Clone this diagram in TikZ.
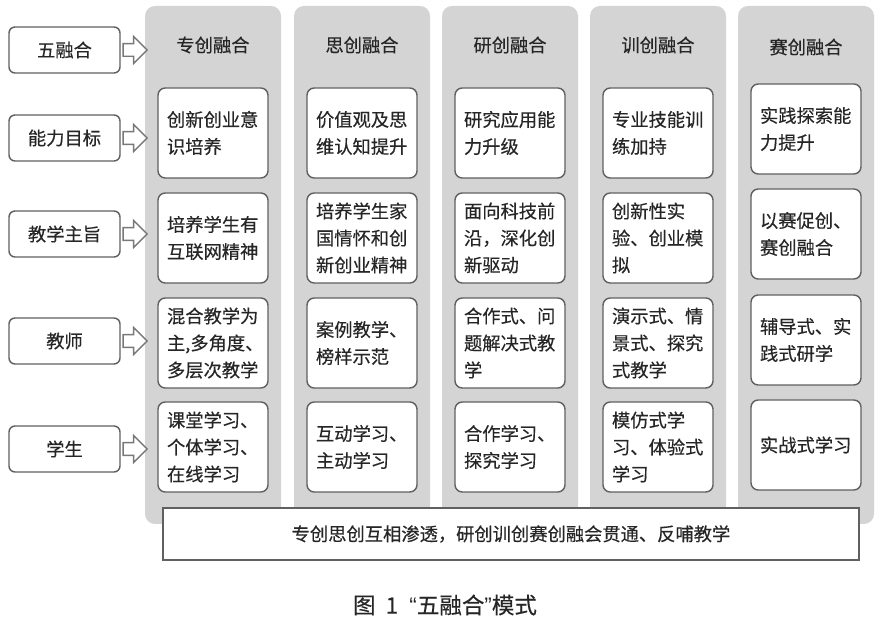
\documentclass[tikz,border=0pt]{standalone}
\usepackage{fontspec}
\setmainfont{Noto Sans CJK SC}[FakeBold=0.35]
\newfontfamily\latinf{Liberation Sans}
\usetikzlibrary{shapes.arrows}
\definecolor{colbg}{HTML}{D4D4D4}
\definecolor{edge}{HTML}{606060}

\begin{document}
\begin{tikzpicture}[col/.style={fill=colbg,rounded corners=0.25cm,minimum width=3.4cm,minimum height=12.95cm},
hd/.style={text=black!85,font=\fontsize{13pt}{16pt}\selectfont},
cell/.style={draw=edge,fill=white,line width=1pt,rounded corners=0.18cm,align=left,text width=2.3cm,inner xsep=0.225cm,minimum height=2.25cm,text=black!85,font=\fontsize{13pt}{19.2pt}\selectfont},
lab/.style={draw=edge,fill=white,line width=1pt,rounded corners=0.15cm,minimum width=2.775cm,minimum height=1.15cm,text=black!85,font=\fontsize{13pt}{16pt}\selectfont},
arr/.style={single arrow,draw=edge!85,fill=white,line width=1pt,inner xsep=0pt,inner ysep=0.14cm,single arrow head extend=0.18cm,minimum height=0.6cm}]
\useasboundingbox (0,0) rectangle (22.05,-15.6);
% columns
\node[col] (c1) at (5.325,-6.625) {};
\node[col] (c2) at (9.05,-6.625) {};
\node[col] (c3) at (12.75,-6.625) {};
\node[col] (c4) at (16.45,-6.625) {};
\node[col] (c5) at (20.15,-6.625) {};
\node[hd] (h1) at (5.325,-1.125) {专创融合};
\node[hd] (h2) at (9.05,-1.125) {思创融合};
\node[hd] (h3) at (12.75,-1.125) {研创融合};
\node[hd] (h4) at (16.45,-1.125) {训创融合};
\node[hd] (h5) at (20.15,-1.175) {赛创融合};
% left labels
\node[lab] (l0) at (1.6125,-1.25) {五融合};
\node[lab] (l1) at (1.6125,-3.45) {能力目标};
\node[lab] (l2) at (1.6125,-5.85) {教学主旨};
\node[lab] (l3) at (1.6125,-8.525) {教师};
\node[lab] (l4) at (1.6125,-11.225) {学生};
\node[arr] (r0) at (3.3,-1.25) {};
\node[arr] (r1) at (3.3,-3.45) {};
\node[arr] (r2) at (3.3,-5.85) {};
\node[arr] (r3) at (3.3,-8.525) {};
\node[arr] (r4) at (3.3,-11.225) {};
% cells
\node[cell] (t11) at (5.325,-3.325) {创新创业意\\识培养};
\node[cell] (t12) at (5.325,-5.95) {培养学生有\\互联网精神};
\node[cell] (t13) at (5.325,-8.575) {混合教学为\\主,多角度、\\多层次教学};
\node[cell] (t14) at (5.325,-11.175) {课堂学习、\\个体学习、\\在线学习};
\node[cell] (t21) at (9.05,-3.325) {价值观及思\\维认知提升};
\node[cell] (t22) at (9.05,-5.95) {培养学生家\\国情怀和创\\新创业精神};
\node[cell] (t23) at (9.05,-8.575) {案例教学、\\榜样示范};
\node[cell] (t24) at (9.05,-11.175) {互动学习、\\主动学习};
\node[cell] (t31) at (12.75,-3.325) {研究应用能\\力升级};
\node[cell] (t32) at (12.75,-5.95) {面向科技前\\沿，深化创\\新驱动};
\node[cell] (t33) at (12.75,-8.575) {合作式、问\\题解决式教\\学};
\node[cell] (t34) at (12.75,-11.175) {合作学习、\\探究学习};
\node[cell] (t41) at (16.45,-3.325) {专业技能训\\练加持};
\node[cell] (t42) at (16.45,-5.95) {创新性实\\验、创业模\\拟};
\node[cell] (t43) at (16.45,-8.575) {演示式、情\\景式、探究\\式教学};
\node[cell] (t44) at (16.45,-11.175) {模仿式学\\习、体验式\\学习};
\node[cell] (t51) at (20.15,-3.225) {实践探索能\\力提升};
\node[cell] (t52) at (20.15,-5.85) {以赛促创、\\赛创融合};
\node[cell] (t53) at (20.15,-8.5) {辅导式、实\\践式研学};
\node[cell] (t54) at (20.15,-11.125) {实战式学习};
% bottom bar and caption
\node[draw=edge,fill=white,line width=1pt,minimum width=17.4cm,minimum height=1.3cm,text=black!85,font=\fontsize{13pt}{16pt}\selectfont] (bar) at (12.775,-13.35) {专创思创互相渗透，研创训创赛创融会贯通、反哺教学};
\node[text=black!85,font=\fontsize{16pt}{18pt}\selectfont] (cap) at (11.125,-15.125) {图\hspace{0.45em}1\hspace{0.5em}{\latinf“}五融合{\latinf”}模式};
\end{tikzpicture}
\end{document}
